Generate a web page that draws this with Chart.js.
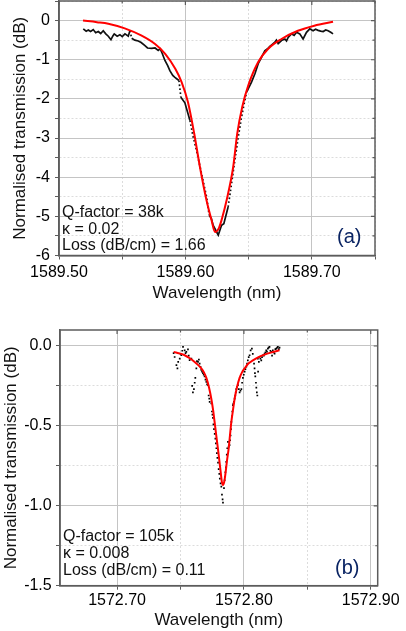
<!DOCTYPE html>
<html>
<head>
<meta charset="utf-8">
<script src="https://cdn.jsdelivr.net/npm/chart.js"></script>
<style>
html, body { margin: 0; padding: 0; background: #fff; width: 406px; height: 631px; overflow: hidden; }
.box { position: absolute; left: 0; width: 406px; }
#boxA { top: 0; height: 312px; }
#boxB { top: 312px; height: 319px; }
</style>
</head>
<body>
<div class="box" id="boxA"><canvas id="chartA" width="406" height="312"></canvas></div>
<div class="box" id="boxB"><canvas id="chartB" width="406" height="319"></canvas></div>
<script>
// (a) measured transmission and Lorentzian fit
const aMeasX = [1589.5192, 1589.5215, 1589.5232, 1589.5250, 1589.5271, 1589.5290, 1589.5311, 1589.5330, 1589.5350, 1589.5370,
  1589.5390, 1589.5411, 1589.5425, 1589.5437, 1589.5460, 1589.5482, 1589.5500, 1589.5522, 1589.5548, 1589.5561,
  1589.5575, 1589.5600, 1589.5627, 1589.5650, 1589.5680, 1589.5700, 1589.5733, 1589.5760, 1589.5785, 1589.5800,
  1589.5817, 1589.5838, 1589.5860, 1589.5877, 1589.5900, 1589.5917, 1589.5949, 1589.5964, 1589.5996, 1589.6036,
  1589.6060, 1589.6088, 1589.6128, 1589.6168, 1589.6188, 1589.6205, 1589.6220, 1589.6247, 1589.6260, 1589.6286,
  1589.6304, 1589.6338, 1589.6365, 1589.6391, 1589.6418, 1589.6444, 1589.6470, 1589.6484, 1589.6523, 1589.6550,
  1589.6576, 1589.6600, 1589.6628, 1589.6650, 1589.6668, 1589.6690, 1589.6708, 1589.6720, 1589.6734, 1589.6760,
  1589.6787, 1589.6800, 1589.6813, 1589.6839, 1589.6860, 1589.6879, 1589.6905, 1589.6931, 1589.6958, 1589.6984,
  1589.7010, 1589.7030, 1589.7050, 1589.7070, 1589.7090, 1589.7110, 1589.7129, 1589.7150, 1589.7168];
const aMeasY = [-0.21, -0.27, -0.24, -0.28, -0.23, -0.31, -0.28, -0.33, -0.26, -0.34,
  -0.40, -0.49, -0.40, -0.34, -0.40, -0.36, -0.41, -0.34, -0.40, -0.26,
  -0.45, -0.50, -0.52, -0.56, -0.64, -0.70, -0.71, -0.70, -0.76, -0.72,
  -0.84, -1.02, -1.15, -1.28, -1.40, -1.45, -1.53, -1.96, -2.10, -2.55,
  -2.95, -3.32, -3.91, -4.51, -4.97, -5.05, -5.23, -5.40, -5.48, -5.23,
  -5.19, -4.76, -4.17, -3.57, -2.98, -2.47, -2.04, -1.83, -1.57, -1.36,
  -1.10, -0.95, -0.77, -0.72, -0.66, -0.60, -0.55, -0.50, -0.59, -0.51,
  -0.47, -0.52, -0.43, -0.34, -0.38, -0.30, -0.34, -0.47, -0.30, -0.21,
  -0.26, -0.22, -0.25, -0.27, -0.28, -0.24, -0.26, -0.30, -0.34];
const aFitX = [1589.519, 1589.530, 1589.539, 1589.552, 1589.565, 1589.576, 1589.584, 1589.592, 1589.597, 1589.602,
  1589.607, 1589.6115, 1589.6167, 1589.6207, 1589.6235, 1589.6265, 1589.6290, 1589.6326, 1589.6378, 1589.6410,
  1589.6450, 1589.6497, 1589.6576, 1589.6655, 1589.676, 1589.689, 1589.702, 1589.7168];
const aFitY = [0.00, -0.04, -0.08, -0.20, -0.38, -0.60, -0.85, -1.23, -1.57, -2.08,
  -2.89, -3.74, -4.59, -5.10, -5.40, -5.30, -5.05, -4.59, -3.74, -2.89,
  -2.20, -1.66, -1.06, -0.72, -0.47, -0.26, -0.13, -0.03];
const aNotes = ['Q-factor = 38k', '\u03ba = 0.02', 'Loss (dB/cm) = 1.66'];

// (b) measured points and fit
const bDotX = [1572.7446, 1572.7454, 1572.7468, 1572.7476, 1572.7482, 1572.7494, 1572.7500, 1572.7507, 1572.7514, 1572.7520,
  1572.7533, 1572.7540, 1572.7546, 1572.7559, 1572.7565, 1572.7572, 1572.7586, 1572.7592, 1572.7598, 1572.7606,
  1572.7612, 1572.7617, 1572.7625, 1572.7630, 1572.7638, 1572.7645, 1572.7651, 1572.7658, 1572.7664, 1572.7670,
  1572.7677, 1572.7683, 1572.7690, 1572.7697, 1572.7704, 1572.7710, 1572.7717, 1572.7722, 1572.7727, 1572.7730,
  1572.7743, 1572.7748, 1572.7752, 1572.7756, 1572.7760, 1572.7764, 1572.7770, 1572.7775, 1572.7779, 1572.7783,
  1572.7787, 1572.7791, 1572.7796, 1572.7801, 1572.7806, 1572.7810, 1572.7816, 1572.7822, 1572.7827, 1572.7832,
  1572.7835, 1572.7843, 1572.7848, 1572.7854, 1572.7858, 1572.7861, 1572.7865, 1572.7869, 1572.7874, 1572.7880,
  1572.7887, 1572.7891, 1572.7895, 1572.7898, 1572.7901, 1572.7905, 1572.7909, 1572.7913, 1572.7917, 1572.7921,
  1572.7927, 1572.7932, 1572.7936, 1572.7940, 1572.7947, 1572.7953, 1572.7960, 1572.7966, 1572.7973, 1572.7980,
  1572.7986, 1572.7992, 1572.7999, 1572.8006, 1572.8012, 1572.8019, 1572.8025, 1572.8031, 1572.8038, 1572.8045,
  1572.8053, 1572.8063, 1572.8070, 1572.8080, 1572.8084, 1572.8087, 1572.8090, 1572.8095, 1572.8098, 1572.8102,
  1572.8106, 1572.8110, 1572.8112, 1572.8118, 1572.8124, 1572.8130, 1572.8137, 1572.8143, 1572.8150, 1572.8157,
  1572.8163, 1572.8170, 1572.8176, 1572.8182, 1572.8189, 1572.8195, 1572.8202, 1572.8209, 1572.8216, 1572.8222,
  1572.8228, 1572.8235, 1572.8242, 1572.8248, 1572.8255, 1572.8262, 1572.8268, 1572.8275, 1572.8281];
const bDotY = [-0.045, -0.069, -0.12, -0.14, -0.10, -0.079, -0.05, -0.058, -0.03, -0.006,
  -0.027, -0.045, -0.037, -0.021, -0.06, -0.089, -0.079, -0.25, -0.29, -0.27,
  -0.23, -0.20, -0.14, -0.095, -0.10, -0.085, -0.11, -0.13, -0.15, -0.16,
  -0.17, -0.18, -0.19, -0.21, -0.225, -0.24, -0.245, -0.31, -0.33, -0.35,
  -0.36, -0.41, -0.43, -0.45, -0.49, -0.52, -0.55, -0.58, -0.61, -0.64,
  -0.67, -0.70, -0.73, -0.77, -0.80, -0.83, -0.86, -0.88, -0.93, -0.96,
  -0.98, -0.89, -0.84, -0.79, -0.76, -0.725, -0.68, -0.64, -0.60, -0.63,
  -0.62, -0.59, -0.56, -0.52, -0.475, -0.44, -0.41, -0.37, -0.36, -0.35,
  -0.33, -0.31, -0.29, -0.27, -0.255, -0.245, -0.27, -0.29, -0.28, -0.27,
  -0.23, -0.20, -0.18, -0.16, -0.145, -0.13, -0.11, -0.09, -0.07, -0.058,
  -0.027, -0.016, -0.05, -0.11, -0.14, -0.17, -0.19, -0.23, -0.26, -0.29,
  -0.31, -0.079, -0.16, -0.10, -0.069, -0.08, -0.09, -0.07, -0.058, -0.06,
  -0.048, -0.04, -0.027, -0.035, -0.016, -0.01, -0.006, -0.03, -0.037, -0.06,
  -0.027, -0.04, -0.048, -0.02, -0.016, -0.01, -0.006, -0.02, -0.01];
const bFitX = [1572.7446, 1572.7500, 1572.7533, 1572.7570, 1572.7612, 1572.7640, 1572.7664, 1572.7685, 1572.7704, 1572.7725,
  1572.7743, 1572.7757, 1572.7769, 1572.7782, 1572.7795, 1572.7807, 1572.7817, 1572.7826, 1572.7835, 1572.7845,
  1572.7856, 1572.7868, 1572.7880, 1572.7890, 1572.7901, 1572.7914, 1572.7927, 1572.7945, 1572.7966, 1572.7985,
  1572.8006, 1572.8035, 1572.8071, 1572.8115, 1572.8163, 1572.8220, 1572.8281];
const bFitY = [-0.037, -0.048, -0.058, -0.075, -0.10, -0.12, -0.14, -0.165, -0.20, -0.26,
  -0.33, -0.40, -0.475, -0.56, -0.64, -0.72, -0.79, -0.85, -0.87, -0.85,
  -0.79, -0.71, -0.64, -0.56, -0.475, -0.40, -0.33, -0.26, -0.20, -0.165,
  -0.14, -0.11, -0.09, -0.07, -0.054, -0.040, -0.027];
const bNotes = ['Q-factor = 105k', '\u03ba = 0.008', 'Loss (dB/cm) = 0.11'];

function pts(xs, ys) {
  return xs.map((x, i) => ({x: x, y: ys[i]}));
}

function isMajor(v, step) {
  const r = v / step;
  return Math.abs(r - Math.round(r)) < 1e-6;
}

const FONT = '"Liberation Sans", Arial, sans-serif';

// frame, inner ticks on top/right, and the text boxes
const framePlugin = {
  id: 'frame',
  afterDraw(chart, args, o) {
    const {ctx, chartArea: a, scales} = chart;
    ctx.save();
    ctx.strokeStyle = '#5c5c5c';
    ctx.lineWidth = 1.5;
    ctx.strokeRect(a.left, a.top, a.right - a.left, a.bottom - a.top);
    ctx.lineWidth = 1.2;
    ctx.beginPath();
    scales.x.ticks.forEach(t => {
      const px = scales.x.getPixelForValue(t.value);
      const len = isMajor(t.value, o.xMajor) ? 4 : 2.5;
      ctx.moveTo(px, a.top);
      ctx.lineTo(px, a.top + len);
    });
    scales.y.ticks.forEach(t => {
      const py = scales.y.getPixelForValue(t.value);
      const len = isMajor(t.value, o.yMajor) ? 4 : 2.5;
      ctx.moveTo(a.right, py);
      ctx.lineTo(a.right - len, py);
    });
    ctx.stroke();

    ctx.fillStyle = '#111';
    ctx.font = '16px ' + FONT;
    ctx.textBaseline = 'middle';
    ctx.textAlign = 'left';
    o.notes.forEach((s, i) => ctx.fillText(s, o.noteX, o.noteY + i * o.noteGap));
    ctx.fillStyle = '#0a2463';
    ctx.font = '20px ' + FONT;
    ctx.fillText(o.tag, o.tagX, o.tagY);
    ctx.restore();
  }
};

function makeChart(id, c) {
  const gridColor = step => ctx => (ctx.tick && isMajor(ctx.tick.value, step)) ? '#c4c4c4' : '#dcdcdc';
  const gridDash = step => ctx => (ctx.tick && !isMajor(ctx.tick.value, step)) ? [2, 2] : [];
  return new Chart(document.getElementById(id), {
    type: 'line',
    data: {
      datasets: [
        {
          label: 'fit',
          data: c.fit,
          borderColor: '#ff0000',
          borderWidth: 2,
          pointRadius: 0,
          cubicInterpolationMode: 'monotone',
          fill: false
        },
        c.meas
      ]
    },
    options: {
      responsive: false,
      animation: false,
      layout: { padding: c.padding, autoPadding: false },
      plugins: {
        legend: { display: false },
        tooltip: { enabled: false },
        frame: c.frame
      },
      scales: {
        x: {
          type: 'linear',
          min: c.xMin,
          max: c.xMax,
          afterFit: s => { s.height = c.xHeight; s.paddingLeft = 0; s.paddingRight = 0; },
          grid: { color: gridColor(c.xMajor), lineWidth: 1, tickLength: 4, tickColor: '#5c5c5c' },
          border: { color: '#5c5c5c', width: 1.5, dash: gridDash(c.xMajor) },
          ticks: {
            stepSize: c.xStep,
            autoSkip: false,
            includeBounds: false,
            maxRotation: 0,
            padding: c.xTickPad,
            color: '#000',
            font: { family: FONT, size: 16 },
            callback: v => isMajor(v, c.xMajor) ? v.toFixed(2) : ''
          },
          title: {
            display: true,
            text: 'Wavelength (nm)',
            color: '#111',
            font: { family: FONT, size: 17 },
            padding: { top: 0, bottom: c.xTitlePad }
          }
        },
        y: {
          type: 'linear',
          min: c.yMin,
          max: c.yMax,
          afterFit: s => { s.width = c.yWidth; s.paddingTop = 0; s.paddingBottom = 0; },
          grid: { color: gridColor(c.yMajor), lineWidth: 1, tickLength: 4, tickColor: '#5c5c5c' },
          border: { color: '#5c5c5c', width: 1.5, dash: gridDash(c.yMajor) },
          ticks: {
            stepSize: c.yStep,
            autoSkip: false,
            includeBounds: false,
            padding: c.yTickPad,
            color: '#000',
            font: { family: FONT, size: 16 },
            callback: v => (v <= 0 && isMajor(v, c.yMajor)) ? v.toFixed(c.yDec) : ''
          },
          title: {
            display: true,
            text: 'Normalised transmission (dB)',
            color: '#111',
            font: { family: FONT, size: 17 },
            padding: { top: c.yTitlePad, bottom: 0 }
          }
        }
      }
    },
    plugins: [framePlugin]
  });
}

makeChart('chartA', {
  fit: pts(aFitX, aFitY),
  meas: {
    label: 'measured',
    data: pts(aMeasX, aMeasY),
    borderColor: '#111',
    borderWidth: 1.7,
    pointRadius: 0,
    tension: 0,
    fill: false,
    segment: {
      borderDash: s => Math.abs(s.p1.y - s.p0.y) > 4 * Math.abs(s.p1.x - s.p0.x) ? [1.6, 2.4] : undefined
    }
  },
  xMin: 1589.50, xMax: 1589.75, xStep: 0.05, xMajor: 0.1,
  yMin: -6, yMax: 0.5, yStep: 0.5, yMajor: 1, yDec: 0,
  padding: { top: 1, right: 31, bottom: 0, left: 0 },
  xHeight: 56.5, yWidth: 59,
  xTickPad: 3, yTickPad: 5, xTitlePad: 8, yTitlePad: 10,
  frame: { xMajor: 0.1, yMajor: 1, notes: aNotes, noteX: 62, noteY: 213, noteGap: 16.2, tag: '(a)', tagX: 337, tagY: 237 }
});

makeChart('chartB', {
  fit: pts(bFitX, bFitY),
  meas: {
    type: 'scatter',
    label: 'measured',
    data: pts(bDotX, bDotY),
    showLine: false,
    pointStyle: 'rect',
    pointRadius: 1.2,
    pointBackgroundColor: '#000',
    pointBorderWidth: 0
  },
  xMin: 1572.655, xMax: 1572.9055, xStep: 0.05, xMajor: 0.1,
  yMin: -1.5, yMax: 0.1, yStep: 0.25, yMajor: 0.5, yDec: 1,
  padding: { top: 18, right: 28.3, bottom: 0, left: 0 },
  xHeight: 45.3, yWidth: 60,
  xTickPad: 1.5, yTickPad: 4.3, xTitlePad: 0, yTitlePad: 1,
  frame: { xMajor: 0.1, yMajor: 0.5, notes: bNotes, noteX: 63, noteY: 225, noteGap: 16.7, tag: '(b)', tagX: 335, tagY: 256.3 }
});
</script>
</body>
</html>
